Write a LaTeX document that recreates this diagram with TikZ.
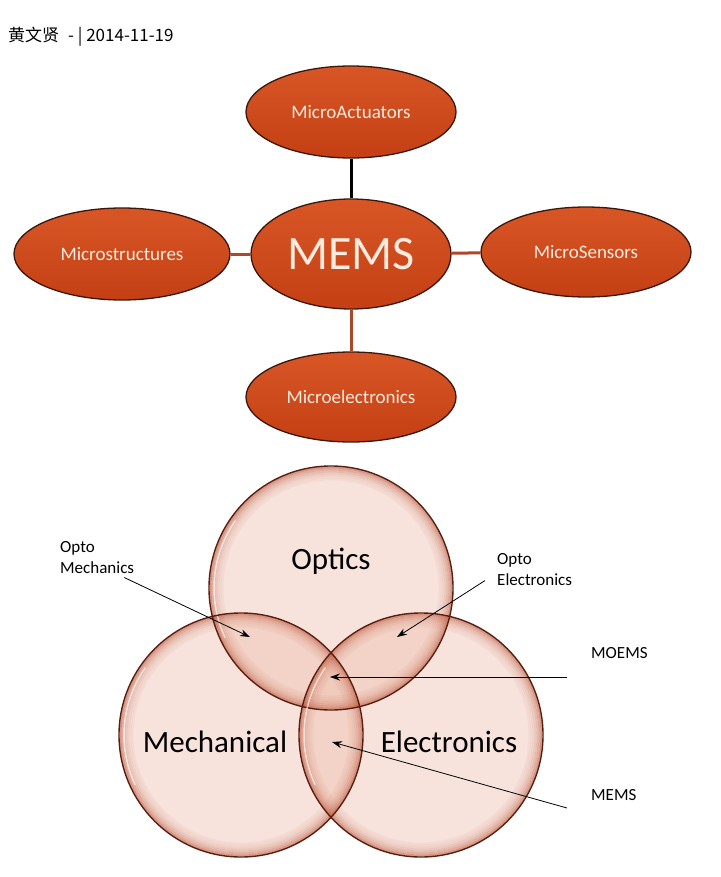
\documentclass[tikz,border=0pt]{standalone}
\usepackage{fontspec}
\setmainfont{Carlito}
\newfontfamily\cjk{Noto Sans CJK SC}
\usetikzlibrary{shapes.geometric,arrows.meta,positioning}

\definecolor{memstop}{RGB}{216,86,38}
\definecolor{memsbot}{RGB}{196,64,20}
\definecolor{memsline}{RGB}{60,22,10}
\definecolor{memstext}{RGB}{252,236,224}
\definecolor{linkcol}{RGB}{172,72,42}
\definecolor{vennfill}{RGB}{238,190,172}
\definecolor{vennrim}{RGB}{185,80,52}
\definecolor{vennline}{RGB}{90,30,16}

\tikzset{
  memsbox/.style={ellipse, draw=memsline, line width=1.3pt, top color=memstop, bottom color=memsbot,
    text=memstext, inner sep=0pt, minimum width=210pt, minimum height=92pt,
    font=\fontsize{19}{19}\selectfont},
  memsmain/.style={memsbox, minimum width=200pt, minimum height=110pt, font=\fontsize{48}{48}\selectfont},
  link/.style={linkcol, line width=3pt},
  toplink/.style={black, line width=3pt},
  venncirc/.style={circle, fill=vennfill, fill opacity=0.42, minimum size=244pt, inner sep=0pt},
  vennedge/.style={vennline, line width=1.4pt},
  vennlab/.style={inner sep=0pt, font=\fontsize{31}{31}\selectfont},
  smalllab/.style={inner sep=0pt, align=left, font=\fontsize{17}{21}\selectfont},
  pointer/.style={black, line width=0.8pt, -{Stealth[length=10pt,width=7pt]}}
}

\begin{document}
\begin{tikzpicture}[x=1pt, y=-1pt]

\useasboundingbox[fill=white] (0,0) rectangle (720,877);

% --- Header ---
\node[anchor=west, inner sep=0pt, font=\fontsize{17}{17}\selectfont] (hdr) at (8,37)
  {\cjk 黄文贤\hspace{9pt}- | 2014-11-19};

% --- Ellipses ---
\node[memsmain] (mems) at (351,254) {MEMS};
\node[memsbox] (act) at (351,112) {MicroActuators};
\node[memsbox, minimum width=216pt] (struct) at (122,254) {Microstructures};
\node[memsbox, minimum height=90pt] (sens) at (586,252) {MicroSensors};
\node[memsbox, minimum height=90pt] (micel) at (351,397) {Microelectronics};

% --- Connectors ---
\draw[toplink] (act) -- (mems);
\draw[link] (struct) -- (mems);
\draw[link] (mems) -- (sens);
\draw[link] (mems) -- (micel);

% --- Venn circles ---
\node[venncirc] (optics) at (331,588) {};
\node[venncirc] (mech) at (241,735) {};
\node[venncirc] (electr) at (421,735) {};

% --- Rims ---
\foreach \c in {optics,mech,electr}{
  \foreach \r/\o in {120.5/0.5, 118.5/0.36, 116.5/0.26, 114.5/0.18, 112.5/0.12, 110.5/0.08, 108.5/0.05}{
    \draw[vennrim, line width=2pt, opacity=\o] (\c.center) circle[radius=\r pt];
  }
}

\foreach \c in {optics,mech,electr}{
    \draw[white, opacity=0.6, line width=1.5pt, line cap=round]
      ([shift={(145:117pt)}]\c.center) arc[start angle=145, end angle=205, radius=117pt];
    \draw[vennedge] (\c.center) circle[radius=122pt];
}

% --- Venn labels ---
\node[vennlab] (opticslab) at (331,561) {Optics};
\node[vennlab] (mechlab) at (215,742) {Mechanical};
\node[vennlab] (eleclab) at (449,742) {Electronics};

% --- Side labels ---
\node[smalllab, anchor=north west] (omlab) at (60,541) {Opto\\Mechanics};
\node[smalllab, anchor=north west] (oelab) at (497,553) {Opto\\Electronics};
\node[smalllab, anchor=west] (moemslab) at (591,653) {MOEMS};
\node[smalllab, anchor=west] (memslab) at (591,795) {MEMS};

% --- Arrow tips ---
\coordinate (omtip) at (250,637);
\coordinate (oetip) at (397,637);
\coordinate (moemstip) at (330,677);
\coordinate (memstip) at (332,742);

\draw[pointer] ([xshift=-10pt,yshift=-4pt]omlab.south east) -- (omtip);
\draw[pointer] ([xshift=-12pt,yshift=5pt]oelab.south west) -- (oetip);
\draw[pointer] ([xshift=-24pt,yshift=-24pt]moemslab.west) -- (moemstip);
\draw[pointer] ([xshift=-24pt,yshift=-13pt]memslab.west) -- (memstip);

\end{tikzpicture}
\end{document}
